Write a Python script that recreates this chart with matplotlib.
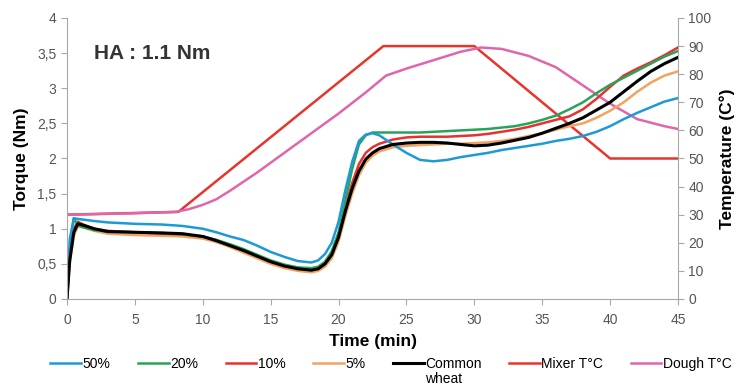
import numpy as np
import matplotlib as mpl
mpl.rcParams.update({'font.family': ['Liberation Sans', 'DejaVu Sans'], 'font.size': 10})
from matplotlib import pyplot as plt

# torque curves (Nm) on a shared time axis (min)
time = [0, 0.2, 0.5, 0.8, 1.2, 2, 3, 5, 7, 8.5, 10, 11, 12, 13, 14, 15, 16, 17, 18, 18.5,
        19, 19.5, 20, 20.5, 21, 21.5, 22, 22.5, 23, 24, 25, 26, 27, 28, 29, 30, 31, 32,
        33, 34, 35, 36, 37, 38, 39, 40, 41, 42, 43, 44, 45]

t50 = [0, 0.85, 1.15, 1.14, 1.13, 1.11, 1.09, 1.07, 1.06, 1.04, 1.0, 0.95, 0.89, 0.84, 0.76,
       0.67, 0.6, 0.54, 0.52, 0.55, 0.64, 0.8, 1.1, 1.55, 1.95, 2.25, 2.34, 2.36, 2.33, 2.2,
       2.08, 1.98, 1.96, 1.98, 2.02, 2.05, 2.08, 2.12, 2.15, 2.18, 2.21, 2.25, 2.28, 2.32,
       2.38, 2.46, 2.56, 2.65, 2.73, 2.81, 2.86]
t20 = [0, 0.7, 1.15, 1.05, 1.02, 0.98, 0.96, 0.95, 0.94, 0.92, 0.89, 0.84, 0.78, 0.71, 0.63,
       0.55, 0.49, 0.45, 0.44, 0.46, 0.53, 0.68, 0.95, 1.4, 1.85, 2.2, 2.33, 2.37, 2.37, 2.37,
       2.37, 2.37, 2.38, 2.39, 2.4, 2.41, 2.42, 2.44, 2.46, 2.5, 2.55, 2.61, 2.7, 2.8, 2.93,
       3.05, 3.15, 3.25, 3.35, 3.45, 3.53]
t10 = [0, 0.6, 1.0, 1.1, 1.06, 1.0, 0.97, 0.95, 0.93, 0.92, 0.89, 0.84, 0.77, 0.7, 0.62,
       0.54, 0.48, 0.44, 0.43, 0.45, 0.52, 0.66, 0.92, 1.3, 1.65, 1.92, 2.08, 2.16, 2.21, 2.27,
       2.3, 2.31, 2.31, 2.31, 2.32, 2.33, 2.35, 2.38, 2.41, 2.45, 2.5, 2.55, 2.6, 2.7, 2.85,
       3.02, 3.18, 3.28, 3.37, 3.47, 3.58]
t5 = [0, 0.5, 0.9, 1.03, 1.02, 0.97, 0.93, 0.91, 0.9, 0.89, 0.86, 0.81, 0.74, 0.66, 0.58,
      0.5, 0.44, 0.4, 0.38, 0.4, 0.46, 0.58, 0.82, 1.18, 1.5, 1.76, 1.94, 2.04, 2.1, 2.16,
      2.18, 2.19, 2.2, 2.21, 2.21, 2.22, 2.23, 2.25, 2.28, 2.32, 2.36, 2.41, 2.46, 2.5, 2.58,
      2.68, 2.8, 2.95, 3.08, 3.18, 3.24]
common = [0, 0.55, 0.95, 1.07, 1.05, 1.0, 0.96, 0.95, 0.94, 0.93, 0.89, 0.83, 0.76, 0.69, 0.61,
          0.53, 0.47, 0.43, 0.41, 0.43, 0.5, 0.63, 0.88, 1.25, 1.57, 1.82, 1.99, 2.08, 2.14, 2.2,
          2.22, 2.23, 2.23, 2.22, 2.2, 2.18, 2.19, 2.22, 2.26, 2.3, 2.36, 2.43, 2.5, 2.58, 2.69,
          2.8, 2.95, 3.1, 3.24, 3.35, 3.44]

# temperatures (C)
mixer_time = [0, 8.2, 23.3, 30, 40, 45]
mixer_temp = [30, 31, 90, 90, 50, 50]
dough_time = [0, 5, 8, 9, 10, 11, 12, 14, 16, 18, 20, 22, 23.5, 25, 27, 29, 30.5, 32, 34,
              36, 38, 40, 42, 44, 45]
dough_temp = [30, 30.5, 31, 32, 33.5, 35.5, 38.5, 45, 52, 59, 66, 73.5, 79.5, 82, 85, 88,
              89.5, 89, 86.5, 82.5, 76, 69.5, 64, 61.5, 60.5]

grey = '#a8a8a8'
tickc = '#555555'

fig = plt.figure(figsize=(7.38, 3.87), dpi=100)
ax = fig.add_axes([0.0908, 0.2274, 0.8279, 0.7261])
ax2 = ax.twinx()

lw = 1.8
ax2.plot(mixer_time, mixer_temp, color='#e8352c', lw=lw, label='Mixer T°C')
ax2.plot(dough_time, dough_temp, color='#e066aa', lw=lw, label='Dough T°C')
ax.plot(time, t5, color='#f4a262', lw=lw, label='5%')
ax.plot(time, t10, color='#e8312f', lw=lw, label='10%')
ax.plot(time, t20, color='#2aa35a', lw=lw, label='20%')
ax.plot(time, t50, color='#1d9ad6', lw=lw, label='50%')
ax.plot(time, common, color='black', lw=2.2, label='Common')
ax.set_zorder(ax2.get_zorder() + 1)
ax.patch.set_visible(False)

ax.set_xlim(0, 45)
ax.set_ylim(0, 4)
ax2.set_ylim(0, 100)
ax.set_xticks(np.arange(0, 46, 5))
ax.set_yticks(np.arange(0, 4.01, 0.5))
ax.set_yticklabels(['0', '0,5', '1', '1,5', '2', '2,5', '3', '3,5', '4'])
ax2.set_yticks(np.arange(0, 101, 10))

for a in (ax, ax2):
    for s in a.spines.values():
        s.set_color(grey)
    a.spines['top'].set_visible(False)
    a.tick_params(colors=grey, labelcolor=tickc, labelsize=10, length=4, direction='out')
ax.spines['right'].set_visible(False)
ax2.spines['left'].set_visible(False)
ax2.spines['bottom'].set_visible(False)
ax.tick_params(axis='x', pad=6)

ax.set_xlabel('Time (min)', fontsize=12.5, fontweight='bold', labelpad=5)
ax.set_ylabel('Torque (Nm)', fontsize=12.5, fontweight='bold', labelpad=6)
ax2.set_ylabel('Temperature (C°)', fontsize=12.5, fontweight='bold', labelpad=6)

ax.text(2.0, 3.5, 'HA : 1.1 Nm', fontsize=15, fontweight='bold', color='#333333',
        family=['Liberation Sans Narrow', 'Liberation Sans'], va='center')

h1, l1 = ax.get_legend_handles_labels()
h2, l2 = ax2.get_legend_handles_labels()
order = ['50%', '20%', '10%', '5%', 'Common', 'Mixer T°C', 'Dough T°C']
hl = dict(zip(l1 + l2, h1 + h2))
leg = fig.legend([hl[k] for k in order], order, loc='center', bbox_to_anchor=(0.5298, 0.0594),
                 ncol=7, frameon=False, fontsize=10, handlelength=2.2, handletextpad=0.1,
                 columnspacing=2.0, borderpad=0)

# second line of the "Common wheat" label
fig.canvas.draw()
bb = leg.get_texts()[4].get_window_extent()
fig.text(bb.x0 / fig.bbox.width, (bb.y0 - 1) / fig.bbox.height, 'wheat', fontsize=10,
         ha='left', va='top')

fig.savefig('out.png', dpi=100)
